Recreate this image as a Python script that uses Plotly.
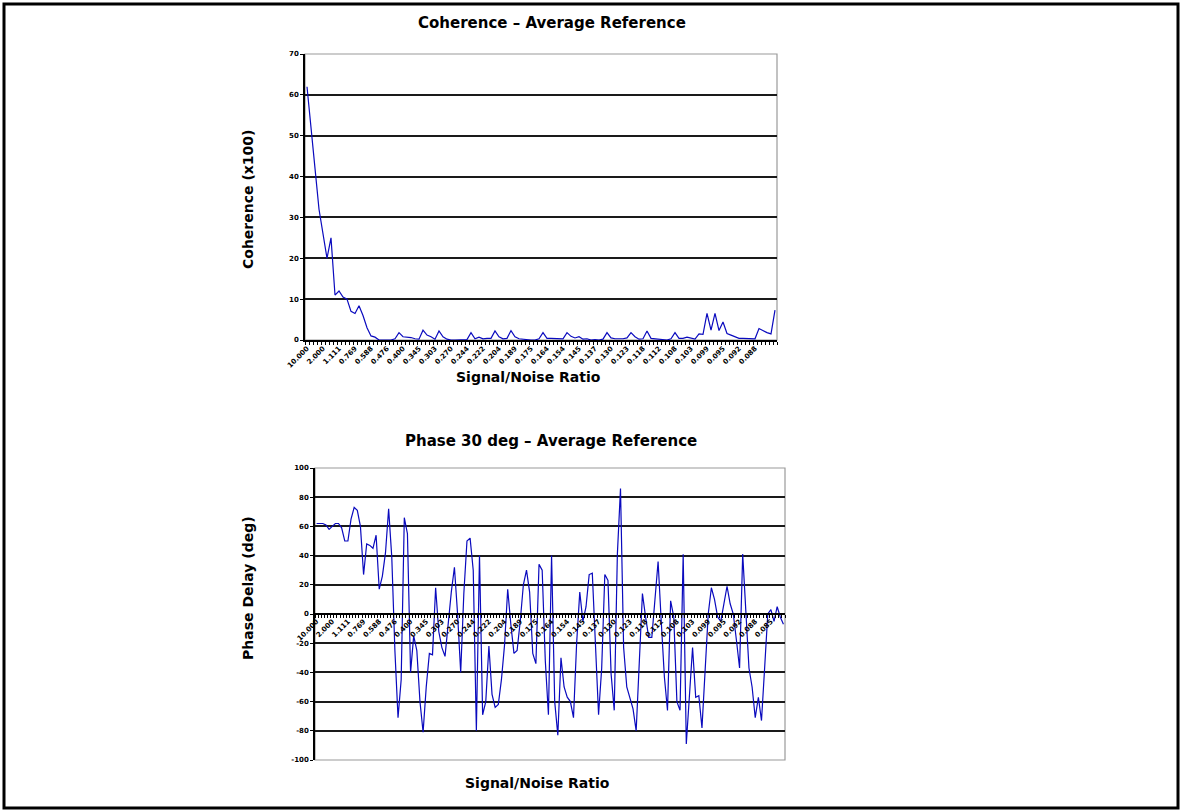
import plotly.graph_objects as go

# ---------------- data ----------------
snr_labels_top = ["10.000", "2.000", "1.111", "0.769", "0.588", "0.476", "0.400", "0.345",
                  "0.303", "0.270", "0.244", "0.222", "0.204", "0.189", "0.175", "0.164",
                  "0.154", "0.145", "0.137", "0.130", "0.123", "0.118", "0.112", "0.108",
                  "0.103", "0.099", "0.095", "0.092", "0.088"]

snr_labels_bottom = ["10.000", "2.000", "1.111", "0.769", "0.588", "0.476", "0.400", "0.345",
                     "0.303", "0.270", "0.244", "0.222", "0.204", "0.189", "0.175", "0.164",
                     "0.154", "0.145", "0.137", "0.130", "0.123", "0.118", "0.112", "0.108",
                     "0.103", "0.099", "0.095", "0.092", "0.088", "0.085"]

coherence = [62, 51, 42, 32, 26, 20, 25, 11, 12, 10.5, 10, 7, 6.5, 8.4, 6, 3, 1, 0.7, 0, 0,
             0, 0, 0.3, 1.8, 0.8, 0.7, 0.6, 0.3, 0.2, 2.4, 1.2, 0.8, 0.2, 2.2, 0.8, 0.2, 0, 0, 0, 0,
             0.1, 1.8, 0.3, 0.7, 0.3, 0.4, 0.4, 2.2, 0.8, 0.3, 0.4, 2.3, 0.8, 0.3, 0.2, 0, 0, 0, 0.3, 1.8,
             0.4, 0.4, 0.4, 0.4, 0.3, 1.8, 0.9, 0.5, 0.8, 0.2, 0.3, 0, 0.1, 0, 0.2, 1.8, 0.5, 0.3, 0.3, 0.3,
             0.5, 1.8, 0.8, 0.2, 0.3, 2.2, 0.4, 0.3, 0.1, 0, 0, 0.3, 1.8, 0.4, 0.4, 0.7, 0.4, 0.2, 1.5, 1.4,
             6.5, 2.4, 6.5, 2.3, 4.4, 1.6, 1.2, 0.8, 0.4, 0.4, 0.4, 0.4, 0.3, 2.8, 2.2, 1.8, 1.5, 7.3]

phase = [62, 62, 62, 61, 58, 60, 62, 62, 59, 50,
         50, 65, 73, 71, 60, 27, 48, 47, 45, 54,
         17, 26, 42, 72, 39, -25, -71, -45, 66, 55,
         -40, -15, -25, -60, -81, -50, -27, -28, 18, -12,
         -23, -29, -5, 15, 32, 0, -40, 14, 50, 52,
         30, -80, 40, -69, -60, -22, -55, -64, -62, -45,
         -21, 17, -7, -27, -25, -5, 20, 30, 15, -27,
         -34, 34, 30, -32, -69, 40, -60, -83, -30, -50,
         -57, -60, -71, -20, 15, -5, 5, 27, 28, -23,
         -69, -37, 27, 23, -41, -66, 41, 86, -23, -50,
         -57, -65, -80, -30, 14, -2, -16, -16, 9, 36,
         -5, -43, -66, 9, -2, -60, -66, 41, -89, -55,
         -23, -57, -56, -78, -41, 0, 18, 10, -2, -5,
         7, 19, 7, 0, -18, -37, 41, 2, -37, -50,
         -71, -57, -73, -37, 0, 3, -5, 5, -2, -7]

coh_ticks = [0, 10, 20, 30, 40, 50, 60, 70]
phase_ticks = [100, 80, 60, 40, 20, 0, -20, -40, -60, -80, -100]

# ---------------- figure ----------------
W, H = 1182, 812

def px(v):
    return v / W

def py(v):
    return 1 - v / H

LINE = "rgb(10,10,190)"
GRID = "#1a1a1a"
TICKFONT = dict(family="DejaVu Sans", size=7, color="black", weight="bold")
TITLEFONT = dict(family="DejaVu Sans", size=15, color="black", weight="bold")
AXTITLEFONT = dict(family="DejaVu Sans", size=14, color="black", weight="bold")

fig = go.Figure()

x_top = list(range(len(coherence)))
x_bot = list(range(len(phase)))

fig.add_trace(go.Scatter(x=x_top, y=coherence, mode="lines",
                         line=dict(color=LINE, width=1.2), xaxis="x", yaxis="y",
                         showlegend=False, hoverinfo="skip"))
fig.add_trace(go.Scatter(x=x_bot, y=phase, mode="lines",
                         line=dict(color=LINE, width=1.2), xaxis="x2", yaxis="y2",
                         showlegend=False, hoverinfo="skip"))

top_dom_x = [px(305), px(777)]
top_dom_y = [py(340), py(54)]
bot_dom_x = [px(315), px(785)]
bot_dom_y = [py(760), py(468)]
zero_pos = py(614)

fig.update_layout(
    template="none",
    width=W, height=H, autosize=False,
    margin=dict(l=0, r=0, t=0, b=0, pad=0),
    paper_bgcolor="white", plot_bgcolor="white",
    showlegend=False,
    xaxis=dict(domain=top_dom_x, anchor="y", range=[-0.5, len(coherence) - 0.5], automargin=False,
               tickvals=[4 * i for i in range(len(snr_labels_top))], ticktext=snr_labels_top,
               tickangle=-45, tickfont=TICKFONT, ticks="", showgrid=False,
               showline=True, linecolor="black", linewidth=1.5, zeroline=False,
               minor=dict(tick0=-0.5, dtick=1, ticks="outside", ticklen=3, tickcolor="black",
                          showgrid=False)),
    yaxis=dict(domain=top_dom_y, anchor="x", range=[0, 70], tickvals=coh_ticks, automargin=False,
               ticktext=[str(v) for v in coh_ticks], tickfont=TICKFONT,
               ticks="outside", ticklen=3, tickcolor="black",
               showgrid=True, gridcolor=GRID, gridwidth=1.5,
               showline=True, linecolor="black", linewidth=1.5, zeroline=False),
    xaxis2=dict(domain=bot_dom_x, anchor="free", position=zero_pos, automargin=False,
                range=[-0.5, len(phase) - 0.5],
                tickvals=[5 * i for i in range(len(snr_labels_bottom))], ticktext=snr_labels_bottom,
                tickangle=-45, tickfont=TICKFONT, ticks="", showgrid=False,
                showline=True, linecolor="black", linewidth=1.5, zeroline=False,
                minor=dict(tick0=-0.5, dtick=1, ticks="outside", ticklen=3, tickcolor="black",
                           showgrid=False)),
    yaxis2=dict(domain=bot_dom_y, anchor="x2", range=[-100, 100], tickvals=phase_ticks, automargin=False,
                ticktext=[str(v) for v in phase_ticks], tickfont=TICKFONT,
                ticks="outside", ticklen=3, tickcolor="black",
                showgrid=True, gridcolor=GRID, gridwidth=1.5,
                showline=True, linecolor="black", linewidth=1.5, zeroline=False),
    shapes=[
        # outer frame
        dict(type="rect", xref="paper", yref="paper", x0=px(4), x1=px(1178), y0=py(808), y1=py(4),
             line=dict(color="black", width=3), layer="above"),
        # plot area borders (grey)
        dict(type="rect", xref="x domain", yref="y domain", x0=0, x1=1, y0=0, y1=1,
             line=dict(color="#9a9a9a", width=1.2), layer="below"),
        dict(type="rect", xref="x2 domain", yref="y2 domain", x0=0, x1=1, y0=0, y1=1,
             line=dict(color="#9a9a9a", width=1.2), layer="below"),
    ],
    annotations=[
        dict(text="Coherence – Average Reference", x=px(552), y=py(23), xref="paper", yref="paper",
             showarrow=False, font=TITLEFONT, xanchor="center", yanchor="middle"),
        dict(text="Signal/Noise Ratio", x=px(528), y=py(377), xref="paper", yref="paper",
             showarrow=False, font=AXTITLEFONT, xanchor="center", yanchor="middle"),
        dict(text="Coherence (x100)", x=px(248), y=py(200), xref="paper", yref="paper",
             showarrow=False, font=AXTITLEFONT, textangle=-90, xanchor="center", yanchor="middle"),
        dict(text="Phase 30 deg – Average Reference", x=px(551), y=py(441), xref="paper", yref="paper",
             showarrow=False, font=TITLEFONT, xanchor="center", yanchor="middle"),
        dict(text="Signal/Noise Ratio", x=px(537), y=py(783), xref="paper", yref="paper",
             showarrow=False, font=AXTITLEFONT, xanchor="center", yanchor="middle"),
        dict(text="Phase Delay (deg)", x=px(248), y=py(588), xref="paper", yref="paper",
             showarrow=False, font=AXTITLEFONT, textangle=-90, xanchor="center", yanchor="middle"),
    ],
)

fig.write_html(
    "out.html",
    config={"displayModeBar": False, "responsive": False},
    post_script="document.body.style.margin='0';document.body.style.padding='0';"
                "document.body.style.overflow='hidden';"
                "document.documentElement.style.overflow='hidden';",
)
